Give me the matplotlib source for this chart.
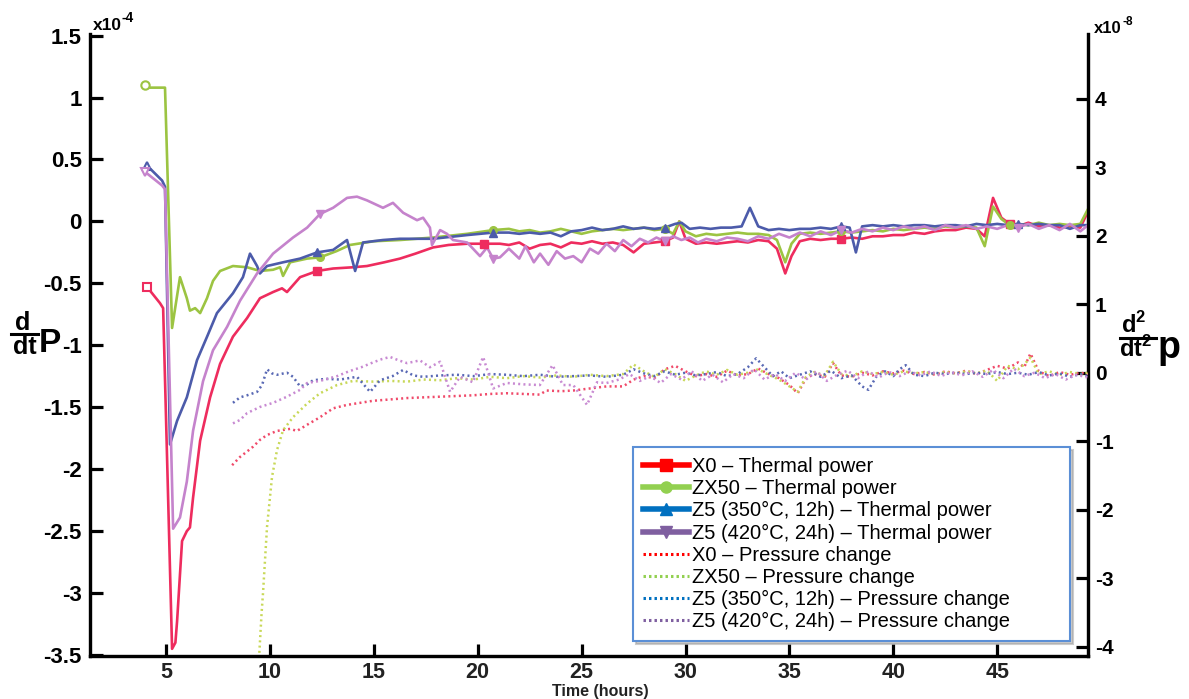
import numpy as np
import matplotlib
matplotlib.use('Agg')
import matplotlib.pyplot as plt
from matplotlib.lines import Line2D

plt.rcParams['font.family'] = ['Liberation Sans', 'DejaVu Sans']
plt.rcParams['axes.unicode_minus'] = False
plt.rcParams['mathtext.fontset'] = 'custom'
plt.rcParams['mathtext.rm'] = 'Liberation Sans'
plt.rcParams['mathtext.bf'] = 'Liberation Sans:bold'

# ---------------- data (thermal power, x1e-4, left axis) ----------------
x0_th_h = [4.09, 4.71, 4.86, 5.29, 5.45, 5.53, 5.77, 6.0, 6.15, 6.3, 6.64, 7.12, 7.6, 8.22, 8.9, 9.52,
           10.15, 10.58, 10.82, 11.45, 12.27, 13.04, 14.0, 14.67, 15.5, 16.26, 17.0, 17.85, 18.6, 19.49,
           20.3, 21.07, 21.5, 22.0, 22.5, 23.0, 23.5, 24.0, 24.5, 25.0, 25.5, 26.0, 26.5, 27.0, 27.5,
           28.0, 28.5, 29.0, 29.4, 29.7, 30.0, 30.5, 31.0, 31.5, 32.0, 32.5, 33.0, 33.5, 34.0, 34.4,
           34.8, 35.1, 35.5, 36.0, 36.5, 37.0, 37.5, 38.0, 38.5, 39.0, 39.5, 40.0, 40.5, 41.0, 41.5,
           42.0, 42.5, 43.0, 43.5, 44.0, 44.4, 44.8, 45.2, 45.6, 46.0, 46.5, 47.0, 47.5, 48.0, 48.5,
           49.0, 49.37]
x0_th_v = [-0.53, -0.66, -0.70, -3.45, -3.40, -3.23, -2.58, -2.50, -2.47, -2.23, -1.77, -1.42, -1.15,
           -0.93, -0.78, -0.62, -0.57, -0.54, -0.57, -0.45, -0.40, -0.38, -0.37, -0.36, -0.33, -0.30,
           -0.26, -0.21, -0.19, -0.18, -0.18, -0.18, -0.19, -0.17, -0.22, -0.19, -0.18, -0.21, -0.17,
           -0.18, -0.16, -0.18, -0.17, -0.19, -0.25, -0.18, -0.17, -0.16, -0.13, 0.0, -0.14, -0.18,
           -0.17, -0.18, -0.17, -0.16, -0.17, -0.15, -0.16, -0.22, -0.42, -0.28, -0.16, -0.14, -0.15,
           -0.14, -0.14, -0.13, -0.14, -0.12, -0.12, -0.11, -0.11, -0.09, -0.10, -0.08, -0.07, -0.07,
           -0.05, -0.06, -0.12, 0.19, 0.03, -0.02, -0.04, -0.01, -0.04, -0.03, -0.05, -0.04, -0.05, 0.08]

zx50_th_h = [3.99, 4.2, 4.95, 5.29, 5.67, 6.0, 6.15, 6.4, 6.64, 6.97, 7.26, 7.6, 8.22, 8.9, 9.52, 10.15,
             10.49, 10.63, 10.97, 11.79, 12.41, 13.2, 13.85, 15.0, 16.26, 17.85, 19.49, 20.74, 21.5, 22.0,
             22.5, 23.0, 23.5, 24.0, 24.5, 25.0, 25.5, 26.0, 26.5, 27.0, 27.5, 28.0, 28.5, 29.0, 29.4,
             29.7, 30.0, 30.5, 31.0, 31.5, 32.0, 32.5, 33.0, 33.5, 34.0, 34.4, 34.8, 35.1, 35.5, 36.0,
             36.5, 37.0, 37.5, 38.0, 38.5, 39.0, 39.5, 40.0, 40.5, 41.0, 41.5, 42.0, 42.5, 43.0, 43.5,
             44.0, 44.4, 44.8, 45.2, 45.6, 46.0, 46.5, 47.0, 47.5, 48.0, 48.5, 49.0, 49.37]
zx50_th_v = [1.10, 1.08, 1.08, -0.86, -0.45, -0.62, -0.72, -0.70, -0.74, -0.62, -0.48, -0.40, -0.36,
             -0.37, -0.40, -0.39, -0.37, -0.44, -0.33, -0.30, -0.29, -0.24, -0.19, -0.16, -0.15, -0.13,
             -0.10, -0.07, -0.06, -0.08, -0.07, -0.09, -0.08, -0.06, -0.08, -0.10, -0.08, -0.07, -0.06,
             -0.07, -0.06, -0.05, -0.07, -0.06, -0.10, 0.00, -0.08, -0.12, -0.10, -0.11, -0.10, -0.09,
             -0.10, -0.10, -0.11, -0.15, -0.33, -0.18, -0.10, -0.09, -0.10, -0.09, -0.08, -0.09, -0.08,
             -0.07, -0.08, -0.06, -0.07, -0.06, -0.05, -0.06, -0.04, -0.05, -0.04, -0.05, -0.20, 0.12,
             0.02, -0.03, -0.02, -0.03, -0.01, -0.03, -0.02, -0.03, -0.02, 0.10]

z350_th_h = [4.09, 4.81, 4.95, 5.19, 5.53, 6.0, 6.49, 7.0, 7.45, 8.22, 8.7, 9.04, 9.38, 9.52, 9.86,
             10.63, 11.45, 12.27, 13.04, 13.71, 14.1, 14.48, 15.44, 16.26, 17.85, 19.49, 20.74, 21.5,
             22.0, 22.5, 23.0, 23.5, 24.0, 24.5, 25.0, 25.5, 26.0, 26.5, 27.0, 27.5, 28.0, 28.5, 29.0,
             29.5, 29.8, 30.2, 30.7, 31.2, 31.7, 32.2, 32.7, 33.1, 33.5, 34.0, 34.5, 35.0, 35.5, 36.0,
             36.5, 37.0, 37.5, 37.9, 38.2, 38.5, 39.0, 39.5, 40.0, 40.5, 41.0, 41.5, 42.0, 42.5, 43.0,
             43.5, 44.0, 44.5, 45.0, 45.5, 46.0, 46.5, 47.0, 47.5, 48.0, 48.5, 49.0, 49.37]
z350_th_v = [0.45, 0.33, 0.28, -1.80, -1.61, -1.42, -1.12, -0.92, -0.74, -0.58, -0.45, -0.26, -0.36,
             -0.42, -0.36, -0.33, -0.30, -0.25, -0.23, -0.15, -0.40, -0.17, -0.15, -0.14, -0.14, -0.11,
             -0.09, -0.09, -0.10, -0.09, -0.10, -0.09, -0.12, -0.08, -0.07, -0.05, -0.07, -0.06, -0.04,
             -0.06, -0.05, -0.06, -0.05, -0.02, -0.01, -0.06, -0.05, -0.06, -0.05, -0.05, -0.04, 0.11,
             -0.04, -0.07, -0.06, -0.07, -0.06, -0.06, -0.05, -0.06, -0.04, -0.05, -0.25, -0.04, -0.03,
             -0.04, -0.03, -0.04, -0.03, -0.03, -0.04, -0.03, -0.03, -0.04, -0.02, -0.03, -0.02, -0.03,
             -0.02, -0.03, -0.02, -0.03, -0.03, -0.06, -0.03, -0.03]

z420_th_h = [3.99, 4.81, 4.95, 5.34, 5.67, 6.0, 6.3, 6.78, 7.26, 7.94, 8.56, 9.38, 10.15, 11.11, 11.79,
             12.41, 13.04, 13.71, 14.19, 14.67, 15.44, 15.92, 16.41, 17.08, 17.37, 17.7, 17.8, 18.19,
             18.52, 18.81, 19.49, 20.11, 20.45, 20.74, 21.07, 21.5, 22.0, 22.3, 22.7, 23.0, 23.4, 23.8,
             24.2, 24.6, 25.0, 25.4, 25.8, 26.2, 26.6, 27.0, 27.4, 27.8, 28.2, 28.6, 29.0, 29.4, 29.8,
             30.2, 30.6, 31.0, 31.5, 32.0, 32.5, 33.0, 33.5, 34.0, 34.5, 35.0, 35.5, 36.0, 36.5, 37.0,
             37.5, 38.0, 38.5, 39.0, 39.5, 40.0, 40.5, 41.0, 41.5, 42.0, 42.5, 43.0, 43.5, 44.0, 44.5,
             45.0, 45.5, 46.0, 46.5, 47.0, 47.5, 48.0, 48.5, 49.0, 49.37]
z420_th_v = [0.40, 0.29, 0.26, -2.48, -2.39, -2.10, -1.69, -1.29, -1.04, -0.85, -0.64, -0.42, -0.26,
             -0.13, -0.05, 0.06, 0.11, 0.19, 0.20, 0.17, 0.11, 0.15, 0.07, 0.01, 0.03, -0.05, -0.19,
             -0.07, -0.10, -0.15, -0.17, -0.28, -0.21, -0.30, -0.29, -0.22, -0.30, -0.20, -0.33, -0.26,
             -0.35, -0.24, -0.30, -0.28, -0.33, -0.22, -0.26, -0.18, -0.24, -0.15, -0.20, -0.14, -0.17,
             -0.13, -0.16, -0.12, -0.15, -0.13, -0.17, -0.14, -0.16, -0.13, -0.14, -0.16, -0.12, -0.14,
             -0.10, -0.13, -0.09, -0.12, -0.08, -0.11, -0.07, -0.09, -0.06, -0.08, -0.05, -0.07, -0.04,
             -0.06, -0.04, -0.07, -0.03, -0.05, -0.03, -0.06, -0.04, -0.06, -0.03, -0.05, -0.02, -0.06,
             -0.03, -0.07, -0.02, -0.08, -0.03]

# ---------------- data (pressure change, x1e-8, right axis) ----------------
x0_pr_h = [8.18, 8.56, 8.9, 9.19, 9.52, 9.86, 10.34, 10.97, 11.3, 11.79, 12.41, 13.04, 13.71, 14.34,
           14.96, 15.8, 16.6, 17.4, 18.19, 19.0, 19.77, 20.6, 21.4, 22.2, 22.99, 23.3, 24.0, 24.6, 25.4,
           26.2, 27.0, 27.5, 28.0, 28.5, 29.0, 29.5, 30.0, 30.5, 31.0, 31.5, 32.0, 32.5, 33.0, 33.5,
           34.0, 34.5, 35.0, 35.4, 35.8, 36.2, 36.7, 37.1, 37.5, 38.0, 38.5, 39.0, 39.5, 40.0, 40.5,
           41.0, 41.5, 42.0, 42.5, 43.0, 43.5, 44.0, 44.5, 45.0, 45.5, 46.0, 46.3, 46.6, 47.0, 47.5,
           48.0, 48.5, 49.0, 49.37]
x0_pr_v = [-1.35, -1.23, -1.15, -1.08, -0.98, -0.91, -0.85, -0.82, -0.85, -0.76, -0.65, -0.52, -0.47,
           -0.44, -0.41, -0.39, -0.37, -0.36, -0.35, -0.34, -0.33, -0.31, -0.30, -0.31, -0.32, -0.26,
           -0.27, -0.26, -0.23, -0.20, -0.20, -0.10, -0.05, -0.08, 0.05, 0.10, 0.02, -0.05, -0.02,
           -0.06, 0.03, -0.04, -0.02, 0.06, -0.02, -0.08, -0.18, -0.30, -0.08, -0.02, -0.06, 0.14,
           -0.04, -0.06, 0.00, -0.04, 0.02, -0.01, 0.03, -0.02, 0.01, -0.03, 0.02, -0.01, 0.03, -0.02,
           0.04, 0.10, 0.06, 0.15, 0.08, 0.28, 0.02, -0.05, 0.01, -0.03, 0.00, -0.02]

zx50_pr_h = [9.3, 9.45, 9.6, 9.67, 9.86, 10.1, 10.34, 10.63, 11.11, 11.79, 12.41, 13.23, 14.0, 14.96,
             15.8, 16.6, 17.4, 18.19, 19.0, 19.8, 20.6, 21.4, 22.2, 23.0, 23.8, 24.6, 25.4, 26.2, 27.0,
             27.5, 28.0, 28.5, 29.0, 29.5, 30.0, 30.5, 31.0, 31.5, 32.0, 32.5, 33.0, 33.5, 34.0, 34.5,
             35.0, 35.4, 35.8, 36.2, 36.7, 37.1, 37.5, 38.0, 38.5, 39.0, 39.5, 40.0, 40.5, 41.0, 41.5,
             42.0, 42.5, 43.0, 43.5, 44.0, 44.5, 45.0, 45.5, 46.0, 46.3, 46.6, 47.0, 47.5, 48.0, 48.5,
             49.0, 49.37]
zx50_pr_v = [-5.0, -4.3, -3.5, -3.2, -2.25, -1.52, -1.13, -0.84, -0.65, -0.45, -0.30, -0.18, -0.12,
             -0.13, -0.12, -0.13, -0.10, -0.11, -0.08, -0.10, -0.06, -0.08, -0.05, -0.07, -0.04, -0.06,
             -0.03, -0.05, -0.02, 0.12, 0.02, -0.06, 0.05, -0.02, -0.12, -0.04, 0.02, -0.03, 0.04, -0.03,
             0.00, 0.05, -0.03, -0.10, -0.20, -0.28, -0.06, 0.01, -0.04, 0.16, -0.02, -0.05, 0.02, -0.02,
             0.01, -0.03, 0.02, -0.01, 0.01, -0.02, 0.01, -0.01, 0.02, -0.01, 0.03, -0.12, 0.10, 0.05,
             0.12, 0.22, -0.02, 0.02, -0.03, 0.01, -0.02, 0.00]

z350_pr_h = [8.22, 8.56, 8.9, 9.38, 9.62, 9.86, 10.1, 10.34, 10.82, 11.11, 11.45, 11.79, 12.08, 12.7,
             13.37, 14.19, 14.82, 15.3, 15.9, 16.41, 16.9, 17.37, 18.2, 19.0, 19.8, 20.6, 21.4, 22.2,
             23.0, 23.8, 24.6, 25.4, 26.2, 27.0, 27.5, 28.0, 28.5, 29.0, 29.5, 30.0, 30.5, 31.0, 31.5,
             32.0, 32.5, 33.0, 33.4, 33.8, 34.2, 34.6, 35.0, 35.5, 36.0, 36.5, 37.0, 37.5, 38.0, 38.5,
             38.8, 39.2, 39.6, 40.0, 40.3, 40.6, 41.0, 41.5, 42.0, 42.5, 43.0, 43.5, 44.0, 44.5, 45.0,
             45.5, 46.0, 46.5, 47.0, 47.5, 48.0, 48.5, 49.0, 49.37]
z350_pr_v = [-0.44, -0.36, -0.33, -0.28, -0.18, 0.05, -0.01, -0.03, 0.00, -0.06, -0.20, -0.17, -0.11,
             -0.09, -0.10, -0.06, -0.28, -0.11, -0.05, 0.04, -0.04, -0.06, -0.04, -0.03, -0.05, -0.02,
             -0.03, -0.05, -0.03, -0.06, -0.05, -0.04, -0.06, -0.03, 0.05, -0.01, -0.05, 0.02, -0.03,
             0.00, -0.04, -0.02, 0.01, -0.05, -0.02, 0.08, 0.21, 0.08, -0.05, 0.02, -0.08, -0.03, 0.02,
             -0.06, 0.03, -0.08, -0.04, -0.20, -0.25, -0.05, 0.02, -0.05, 0.05, 0.11, -0.03, -0.05, 0.00,
             -0.02, 0.00, -0.02, 0.00, -0.02, 0.01, -0.02, 0.00, -0.03, 0.01, -0.04, -0.01, -0.06, -0.02,
             -0.05]

z420_pr_h = [8.22, 8.56, 8.9, 9.52, 10.15, 10.82, 11.45, 11.79, 12.41, 13.23, 13.8, 14.4, 14.96, 15.4,
             15.78, 16.2, 16.6, 17.22, 17.7, 18.19, 18.67, 19.15, 19.77, 20.26, 20.74, 21.4, 22.2, 22.99,
             23.6, 24.1, 24.6, 25.26, 25.74, 26.2, 26.8, 27.3, 27.8, 28.3, 28.8, 29.3, 29.8, 30.3, 30.8,
             31.3, 31.8, 32.3, 32.8, 33.3, 33.8, 34.3, 34.8, 35.3, 35.8, 36.3, 36.8, 37.3, 37.8, 38.3,
             38.8, 39.3, 39.8, 40.3, 40.8, 41.3, 41.8, 42.3, 42.8, 43.3, 43.8, 44.3, 44.8, 45.3, 45.8,
             46.3, 46.8, 47.3, 47.8, 48.3, 48.8, 49.37]
z420_pr_v = [-0.74, -0.69, -0.59, -0.50, -0.44, -0.35, -0.25, -0.15, -0.12, -0.05, 0.02, 0.08, 0.15,
             0.20, 0.23, 0.18, 0.14, 0.18, 0.08, 0.16, -0.28, -0.06, -0.14, 0.23, -0.23, -0.15, -0.17,
             -0.18, 0.11, -0.18, -0.18, -0.47, -0.14, -0.15, -0.10, -0.02, -0.12, -0.05, -0.15, -0.02,
             -0.10, 0.02, -0.12, -0.03, -0.14, -0.02, -0.08, 0.05, -0.10, -0.02, -0.12, 0.00, -0.10, 0.02,
             -0.12, -0.03, 0.03, -0.08, 0.02, -0.07, 0.01, -0.05, 0.02, -0.04, 0.02, -0.05, 0.01, -0.04,
             0.02, -0.06, 0.04, -0.08, 0.06, -0.05, 0.00, -0.08, -0.02, -0.10, -0.03, -0.07]

x_ticks = [5, 10, 15, 20, 25, 30, 35, 40, 45]
left_ticks = [1.5, 1, 0.5, 0, -0.5, -1, -1.5, -2, -2.5, -3, -3.5]
right_ticks = [4, 3, 2, 1, 0, -1, -2, -3, -4]
marker_hours = [12.3, 20.6, 29.0, 37.4, 45.8]

legend_labels = ['X0 \u2013 Thermal power', 'ZX50 \u2013 Thermal power',
                 'Z5 (350\u00b0C, 12h) \u2013 Thermal power', 'Z5 (420\u00b0C, 24h) \u2013 Thermal power',
                 'X0 \u2013 Pressure change', 'ZX50 \u2013 Pressure change',
                 'Z5 (350\u00b0C, 12h) \u2013 Pressure change', 'Z5 (420\u00b0C, 24h) \u2013 Pressure change']

# ---------------- figure ----------------
W, H = 1189, 699
fig = plt.figure(figsize=(W / 100, H / 100), dpi=100)
L, R, T, B = 90, 1088, 34, 656
ax = fig.add_axes([L / W, 1 - B / H, (R - L) / W, (B - T) / H])
ax2 = ax.twinx()

th_cols = ['#EE2C5E', '#9CC442', '#4C5BAA', '#C583CC']
pr_cols = ['#F04A6A', '#C8D858', '#5868B4', '#C88AD2']
mks = ['s', 'o', '^', 'v']
th_series = [(x0_th_h, x0_th_v), (zx50_th_h, zx50_th_v), (z350_th_h, z350_th_v), (z420_th_h, z420_th_v)]
pr_series = [(x0_pr_h, x0_pr_v), (zx50_pr_h, zx50_pr_v), (z350_pr_h, z350_pr_v), (z420_pr_h, z420_pr_v)]

for (hh, vv), c, m in zip(th_series, th_cols, mks):
    hh = np.asarray(hh); vv = np.asarray(vv)
    ax.plot(hh, vv, color=c, lw=1.9, zorder=3)
    ax.plot(hh[:1], vv[:1], ls='none', marker=m, ms=6, mfc='white', mec=c, mew=1.5, zorder=4)
    idx = sorted(set(int(np.argmin(np.abs(hh - mh))) for mh in marker_hours))
    ax.plot(hh[idx], vv[idx], ls='none', marker=m, ms=5.5, color=c, zorder=4)

for (hh, vv), c in zip(pr_series, pr_cols):
    ax2.plot(hh, vv, color=c, lw=1.8, ls=(0, (0.8, 1.3)), zorder=3)

ax.set_xlim(1.34, 49.37)
ax.set_ylim(-3.508, 1.513)
ax2.set_ylim(-4.136, 4.945)

for a in (ax, ax2):
    a.patch.set_visible(False)
    a.spines['top'].set_visible(False)
    for s in ('left', 'right', 'bottom'):
        a.spines[s].set_linewidth(2.3)
        a.spines[s].set_color('black')

ax.set_xticks(x_ticks, [f'{t:g}' for t in x_ticks], fontsize=15.5, fontweight='bold', color='#222222')
ax.set_yticks(left_ticks, [f'{t:g}' for t in left_ticks], fontsize=16, fontweight='bold')
ax2.set_yticks(right_ticks, [f'{t:g}' for t in right_ticks], fontsize=15, fontweight='bold')
ax.tick_params(axis='x', direction='in', length=9, width=2.3, pad=4)
ax.tick_params(axis='y', direction='in', length=9, width=2.3, pad=6)
ax2.tick_params(axis='y', direction='in', length=9, width=2.3, pad=5)

# exponent labels
t1 = fig.text(93 / W, 1 - 30 / H, 'x10', fontsize=12.5, fontweight='bold', ha='left', va='baseline')
ax.annotate('-4', xy=(1.0, 0.55), xycoords=t1, fontsize=10, fontweight='bold',
            ha='left', va='bottom', annotation_clip=False)
t2 = fig.text(1094 / W, 1 - 33 / H, 'x10', fontsize=12, fontweight='bold', ha='left', va='baseline')
ax.annotate('-8', xy=(1.02, 0.55), xycoords=t2, fontsize=8.5, fontweight='bold',
            ha='left', va='bottom', annotation_clip=False)

# left y label  d/dt P
fig.text(23 / W, 1 - 330 / H, 'd', fontsize=18, fontweight='bold', ha='center', va='baseline')
fig.add_artist(Line2D([11 / W, 38 / W], [1 - 334 / H, 1 - 334 / H], color='black', lw=2.2))
fig.text(25 / W, 1 - 354 / H, 'dt', fontsize=18, fontweight='bold', ha='center', va='baseline')
fig.text(39 / W, 1 - 352 / H, 'P', fontsize=24, fontweight='bold', ha='left', va='baseline')

# right y label  d2/dt2 p
fig.text(1121 / W, 1 - 333 / H, r'$\mathbf{d}^{\mathbf{2}}$', fontsize=17, ha='left', va='baseline')
fig.add_artist(Line2D([1120 / W, 1156 / W], [1 - 338 / H, 1 - 338 / H], color='black', lw=2.2))
fig.text(1119 / W, 1 - 357 / H, r'$\mathbf{dt}^{\mathbf{2}}$', fontsize=17, ha='left', va='baseline')
fig.text(1158 / W, 1 - 358 / H, 'p', fontsize=27, fontweight='bold', ha='left', va='baseline')

fig.text(600 / W, 1 - 696 / H, 'Time (hours)', fontsize=11.5, fontweight='bold',
         ha='center', va='baseline', color='#222222')

# legend (separately styled, like the original overlay)
leg_cols = ['#FF0000', '#92D050', '#0070C0', '#7F5FA0']
handles = []
for c, m in zip(leg_cols, mks):
    handles.append(Line2D([], [], color=c, lw=4, marker=m, ms=8))
for c in leg_cols:
    handles.append(Line2D([], [], color=c, lw=2.2, ls=(0, (0.8, 1.0))))
leg = ax2.legend(handles, legend_labels, loc='upper left',
                 bbox_to_anchor=(633 / W, 1 - 640 / H, 437 / W, 193 / H), mode='expand',
                 bbox_transform=fig.transFigure, borderaxespad=0, fontsize=14.5, frameon=True,
                 fancybox=False, framealpha=1, edgecolor='#5B8FD6', labelspacing=0.155,
                 handlelength=2.3, handletextpad=0.15, borderpad=0.5,
                 shadow={'color': '#9a9a9a', 'alpha': 0.5})
leg.get_frame().set_linewidth(1.5)
leg.set_zorder(10)

fig.savefig('out.png', dpi=100)
